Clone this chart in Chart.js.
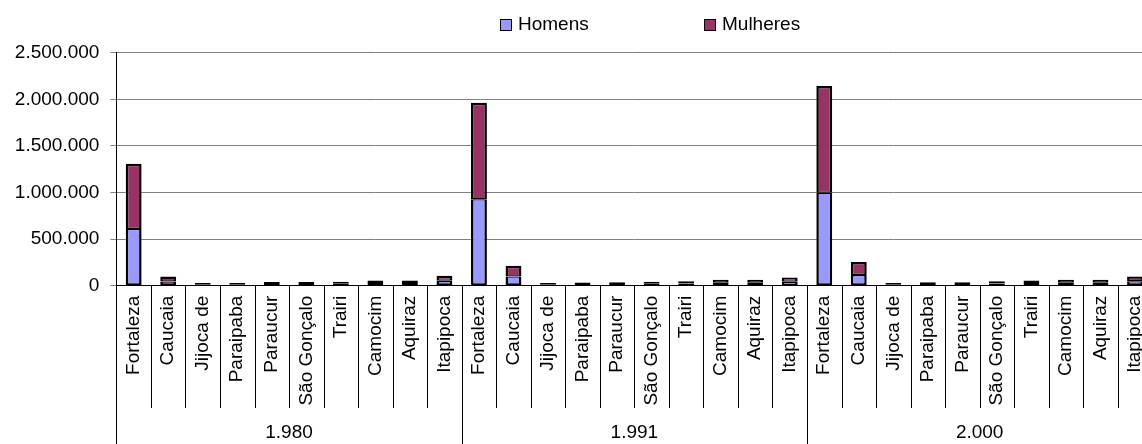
<!DOCTYPE html>
<html>
<head>
<meta charset="utf-8">
<script src="https://cdn.jsdelivr.net/npm/chart.js@4/dist/chart.umd.min.js"></script>
<style>
  html, body { margin: 0; padding: 0; background: #fff; overflow: hidden; }
  #wrap { position: relative; width: 1153px; height: 444px; }
  #myChart { display: block; }
  .leg { position: absolute; top: 13px; font: 19px "Liberation Sans", Arial, sans-serif; color: #000; line-height: 22px; white-space: nowrap; }
  .leg i { display: inline-block; width: 10px; height: 10px; border: 1.5px solid #000; margin-right: 6px; vertical-align: -1px; }
</style>
</head>
<body>
<div id="wrap">
  <canvas id="myChart" width="1153" height="444"></canvas>
  <div class="leg" style="left:500px"><i style="background:#9999FF"></i>Homens</div>
  <div class="leg" style="left:704px"><i style="background:#993366"></i>Mulheres</div>
</div>
<script>
// data
const cities = ['Fortaleza', 'Caucaia', 'Jijoca de', 'Paraipaba', 'Paraucur', 'São Gonçalo', 'Trairi', 'Camocim', 'Aquiraz', 'Itapipoca'];
const years = ['1.980', '1.991', '2.000'];

const homens1980 = [608000, 46000, 15000, 15000, 19000, 19000, 21000, 28000, 28000, 52000];
const mulheres1980 = [700000, 52000, 15000, 15000, 20000, 20000, 22000, 29000, 29000, 55000];
const homens1991 = [927000, 100000, 15000, 17000, 18000, 21000, 24000, 31000, 31000, 43000];
const mulheres1991 = [1036000, 115000, 15000, 17000, 18000, 22000, 25000, 33000, 33000, 46000];
const homens2000 = [998000, 114000, 15000, 18000, 18000, 24000, 28000, 31000, 31000, 48000];
const mulheres2000 = [1145000, 139000, 15000, 18000, 18000, 25000, 29000, 33000, 33000, 52000];

const yTicks = [0, 500000, 1000000, 1500000, 2000000, 2500000];

const FONT = '"Liberation Sans", Arial, sans-serif';
const fmt = v => String(v).replace(/\B(?=(\d{3})+(?!\d))/g, '.');

const labels = [...cities, ...cities, ...cities];

// category dividers under the axis + year groups
const groupAxis = {
  id: 'groupAxis',
  afterDraw(chart) {
    const x = chart.scales.x;
    const c = chart.ctx;
    const base = chart.chartArea.bottom;
    c.save();
    c.strokeStyle = '#000';
    c.lineWidth = 1;
    for (let i = 0; i <= labels.length; i++) {
      const px = Math.round(x.getPixelForValue(i - 0.5)) + 0.5;
      const end = i % cities.length === 0 ? chart.height : 408;
      c.beginPath();
      c.moveTo(px, base);
      c.lineTo(px, end);
      c.stroke();
    }
    c.fillStyle = '#000';
    c.font = '19px ' + FONT;
    c.textAlign = 'center';
    c.textBaseline = 'middle';
    years.forEach((y, g) => {
      const mid = x.getPixelForValue(g * cities.length + (cities.length - 1) / 2);
      c.fillText(y, mid, 433);
    });
    c.restore();
  }
};

const ctx = document.getElementById('myChart');

new Chart(ctx, {
  type: 'bar',
  data: {
    labels: labels,
    datasets: [{
      label: 'Homens',
      data: [...homens1980, ...homens1991, ...homens2000],
      backgroundColor: '#9999FF',
      borderColor: '#000',
      borderWidth: { top: 1.25, left: 2.5, right: 2.5, bottom: 2 },
      borderSkipped: false
    }, {
      label: 'Mulheres',
      data: [...mulheres1980, ...mulheres1991, ...mulheres2000],
      backgroundColor: '#993366',
      borderColor: '#000',
      borderWidth: { top: 2.5, left: 2.5, right: 2.5, bottom: 1.25 },
      borderSkipped: false
    }]
  },
  options: {
    responsive: false,
    animation: false,
    layout: { padding: { top: 52.7, right: 0.7, left: 0, bottom: 0 } },
    plugins: {
      legend: { display: false },
      tooltip: { enabled: false }
    },
    datasets: {
      bar: { categoryPercentage: 1, barPercentage: 0.46 }
    },
    scales: {
      x: {
        stacked: true,
        grid: { display: true, drawOnChartArea: false, drawTicks: false, offset: true },
        border: { display: true, color: '#000', width: 1 },
        ticks: {
          autoSkip: false,
          minRotation: 90,
          maxRotation: 90,
          padding: 10,
          color: '#000',
          font: { family: FONT, size: 19 }
        },
        afterFit: s => { s.height = 158.3; s.paddingLeft = 0; s.paddingRight = 0; }
      },
      y: {
        stacked: true,
        min: 0,
        max: 2500000,
        afterBuildTicks: s => { s.ticks = yTicks.map(v => ({ value: v })); },
        grid: { color: '#808080', lineWidth: 1, tickLength: 6 },
        border: { display: true, color: '#000', width: 1 },
        ticks: {
          padding: 11,
          color: '#000',
          font: { family: FONT, size: 19 },
          callback: v => fmt(v)
        },
        afterFit: s => { s.width = 116.4; }
      }
    }
  },
  plugins: [groupAxis]
});
</script>
</body>
</html>
